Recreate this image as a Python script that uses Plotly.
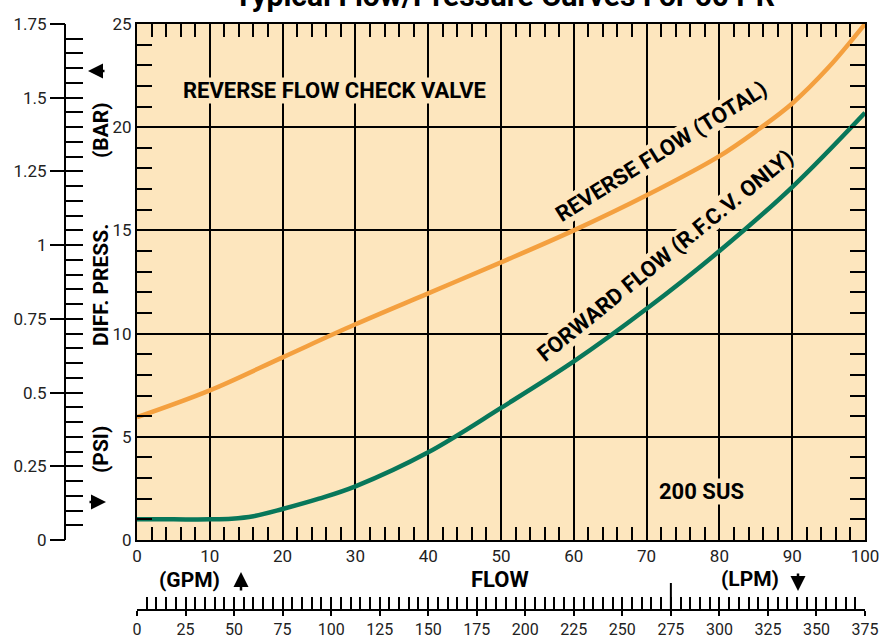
import plotly.graph_objects as go

# ---- data ----
gpm_rev = [0, 10, 20, 30, 40, 50, 60, 70, 80, 85, 90, 95, 100]
reverse_psi = [5.95, 7.25, 8.85, 10.45, 11.95, 13.45, 15.0, 16.7, 18.6, 19.8, 21.15, 22.9, 25.0]
gpm_fwd = [0, 5, 10, 13, 16, 20, 25, 30, 40, 50, 60, 70, 80, 90, 100]
forward_psi = [1.0, 1.0, 1.0, 1.03, 1.15, 1.5, 2.0, 2.6, 4.25, 6.4, 8.65, 11.2, 14.0, 17.1, 20.7]

psi_ticks = [0, 5, 10, 15, 20, 25]
gpm_ticks = list(range(0, 101, 10))
bar_ticks = [0, 0.25, 0.5, 0.75, 1, 1.25, 1.5, 1.75]
bar_labels = ["0", "0.25", "0.5", "0.75", "1", "1.25", "1.5", "1.75"]
lpm_ticks = list(range(0, 376, 25))

W, H = 881, 641
BG = "#FDE6BE"
ORANGE = "#F4A03F"
GREEN = "#08775A"
FONT = "Roboto"


def px(x, y):
    return x / W, (H - y) / H


fig = go.Figure()
fig.add_trace(go.Scatter(x=gpm_rev, y=reverse_psi, mode="lines", line=dict(color=ORANGE, width=4.5, shape="spline"),
                         showlegend=False, hoverinfo="skip"))
fig.add_trace(go.Scatter(x=gpm_fwd, y=forward_psi, mode="lines", line=dict(color=GREEN, width=4.5, shape="spline"),
                         showlegend=False, hoverinfo="skip"))
# dummy traces to bring extra axes to life
fig.add_trace(go.Scatter(x=[None], y=[None], xaxis="x", yaxis="y2", showlegend=False, hoverinfo="skip"))
fig.add_trace(go.Scatter(x=[None], y=[None], xaxis="x", yaxis="y3", showlegend=False, hoverinfo="skip"))
fig.add_trace(go.Scatter(x=[None], y=[None], xaxis="x3", yaxis="y", showlegend=False, hoverinfo="skip"))
fig.add_trace(go.Scatter(x=[None], y=[None], xaxis="x4", yaxis="y", showlegend=False, hoverinfo="skip"))

x0, x1 = 137 / W, 865 / W
y0, y1 = (H - 540) / H, (H - 24) / H
tickfont = dict(family=FONT, size=17, color="#222")

fig.update_layout(
    width=W, height=H, margin=dict(l=0, r=0, t=0, b=0, pad=0, autoexpand=False),
    paper_bgcolor="white", plot_bgcolor=BG,
    xaxis=dict(domain=[x0, x1], range=[0, 100], anchor="y", tickvals=gpm_ticks, automargin=False,
               showgrid=True, gridcolor="black", gridwidth=2, zeroline=False,
               ticks="inside", ticklen=13, tickwidth=2, tickcolor="black",
               minor=dict(dtick=2, ticks="inside", ticklen=13, tickwidth=2, tickcolor="black", showgrid=False),
               showline=True, linewidth=2, linecolor="black", mirror="ticks", tickfont=tickfont),
    yaxis=dict(domain=[y0, y1], range=[0, 25], anchor="x", tickvals=psi_ticks, automargin=False,
               showgrid=True, gridcolor="black", gridwidth=2, zeroline=False,
               ticks="inside", ticklen=15, tickwidth=2, tickcolor="black",
               minor=dict(dtick=1, ticks="inside", ticklen=15, tickwidth=2, tickcolor="black", showgrid=False),
               showline=True, linewidth=2, linecolor="black", mirror="ticks", tickfont=tickfont),
    yaxis2=dict(overlaying="y", anchor="free", position=65 / W, side="left", range=[0, 1.75], automargin=False,
                tickvals=bar_ticks, showticklabels=False, showgrid=False, zeroline=False,
                ticks="inside", ticklen=17, tickwidth=2, tickcolor="black",
                minor=dict(dtick=0.05, ticks="inside", ticklen=17, tickwidth=2, tickcolor="black"),
                showline=True, linewidth=2, linecolor="black"),
    yaxis3=dict(overlaying="y", anchor="free", position=65 / W, side="left", range=[0, 1.75], automargin=False,
                tickvals=bar_ticks, ticktext=bar_labels, showgrid=False, zeroline=False,
                ticks="outside", ticklen=15, tickwidth=2, tickcolor="black", showline=False,
                tickfont=tickfont),
    xaxis3=dict(overlaying="x", anchor="free", position=(H - 610) / H, side="bottom", range=[0, 375],
                automargin=False,
                tickvals=lpm_ticks, showticklabels=False, showgrid=False, zeroline=False,
                ticks="inside", ticklen=12, tickwidth=2, tickcolor="black",
                minor=dict(dtick=5, ticks="inside", ticklen=12, tickwidth=2, tickcolor="black"),
                showline=True, linewidth=2, linecolor="black"),
    xaxis4=dict(overlaying="x", anchor="free", position=(H - 610) / H, side="bottom", range=[0, 375],
                automargin=False,
                tickvals=lpm_ticks, showgrid=False, zeroline=False,
                ticks="outside", ticklen=5, tickwidth=2, tickcolor="black", showline=False,
                tickfont=dict(family=FONT, size=16, color="#222"), ticklabelstandoff=0),
)

# tall tick at 275 LPM
fig.add_shape(type="line", xref="x3", yref="paper", x0=275, x1=275,
              y0=(H - 610) / H, y1=(H - 583) / H, line=dict(color="black", width=2))

ann = []


def text(t, x, y, size=19, angle=0, bg=None, color="black"):
    xx, yy = px(x, y)
    ann.append(dict(text=t, x=xx, y=yy, xref="paper", yref="paper", showarrow=False,
                    textangle=angle, font=dict(family=FONT, size=size, color=color),
                    bgcolor=bg, borderpad=0, xanchor="center", yanchor="middle"))


def arrow(x, y, ax, ay):
    xx, yy = px(x, y)
    ann.append(dict(text="", x=xx, y=yy, xref="paper", yref="paper", showarrow=True,
                    ax=ax, ay=ay, arrowhead=2, arrowsize=1.2, arrowwidth=2.5, arrowcolor="black"))


text("<b>Typical Flow/Pressure Curves For 60 PR</b>", 504, -4, size=30)
text("<b>REVERSE FLOW CHECK VALVE</b>", 334, 90, size=22, bg=BG)
text("<b>200 SUS</b>", 701, 491, size=22, bg=BG)
text("<b>REVERSE FLOW (TOTAL)</b>", 661, 151, size=22, angle=-32, bg=BG)
text("<b>FORWARD FLOW (R.F.C.V. ONLY)</b>", 665, 255, size=22, angle=-39, bg=BG)
text("<b>DIFF. PRESS.</b>", 101, 285, size=21, angle=-90)
text("<b>(BAR)</b>", 101, 130, size=21, angle=-90)
text("<b>(PSI)</b>", 101, 450, size=21, angle=-90)
text("<b>(GPM)</b>", 189, 580, size=21)
text("<b>FLOW</b>", 500, 579, size=22)
text("<b>(LPM)</b>", 750, 579, size=21)
arrow(88, 71, 18, 0)
arrow(106, 502, -18, 0)
arrow(241, 572, 0, 20)
arrow(798, 591, 0, -19)

fig.update_layout(annotations=ann)
fig.write_html("out.html")
